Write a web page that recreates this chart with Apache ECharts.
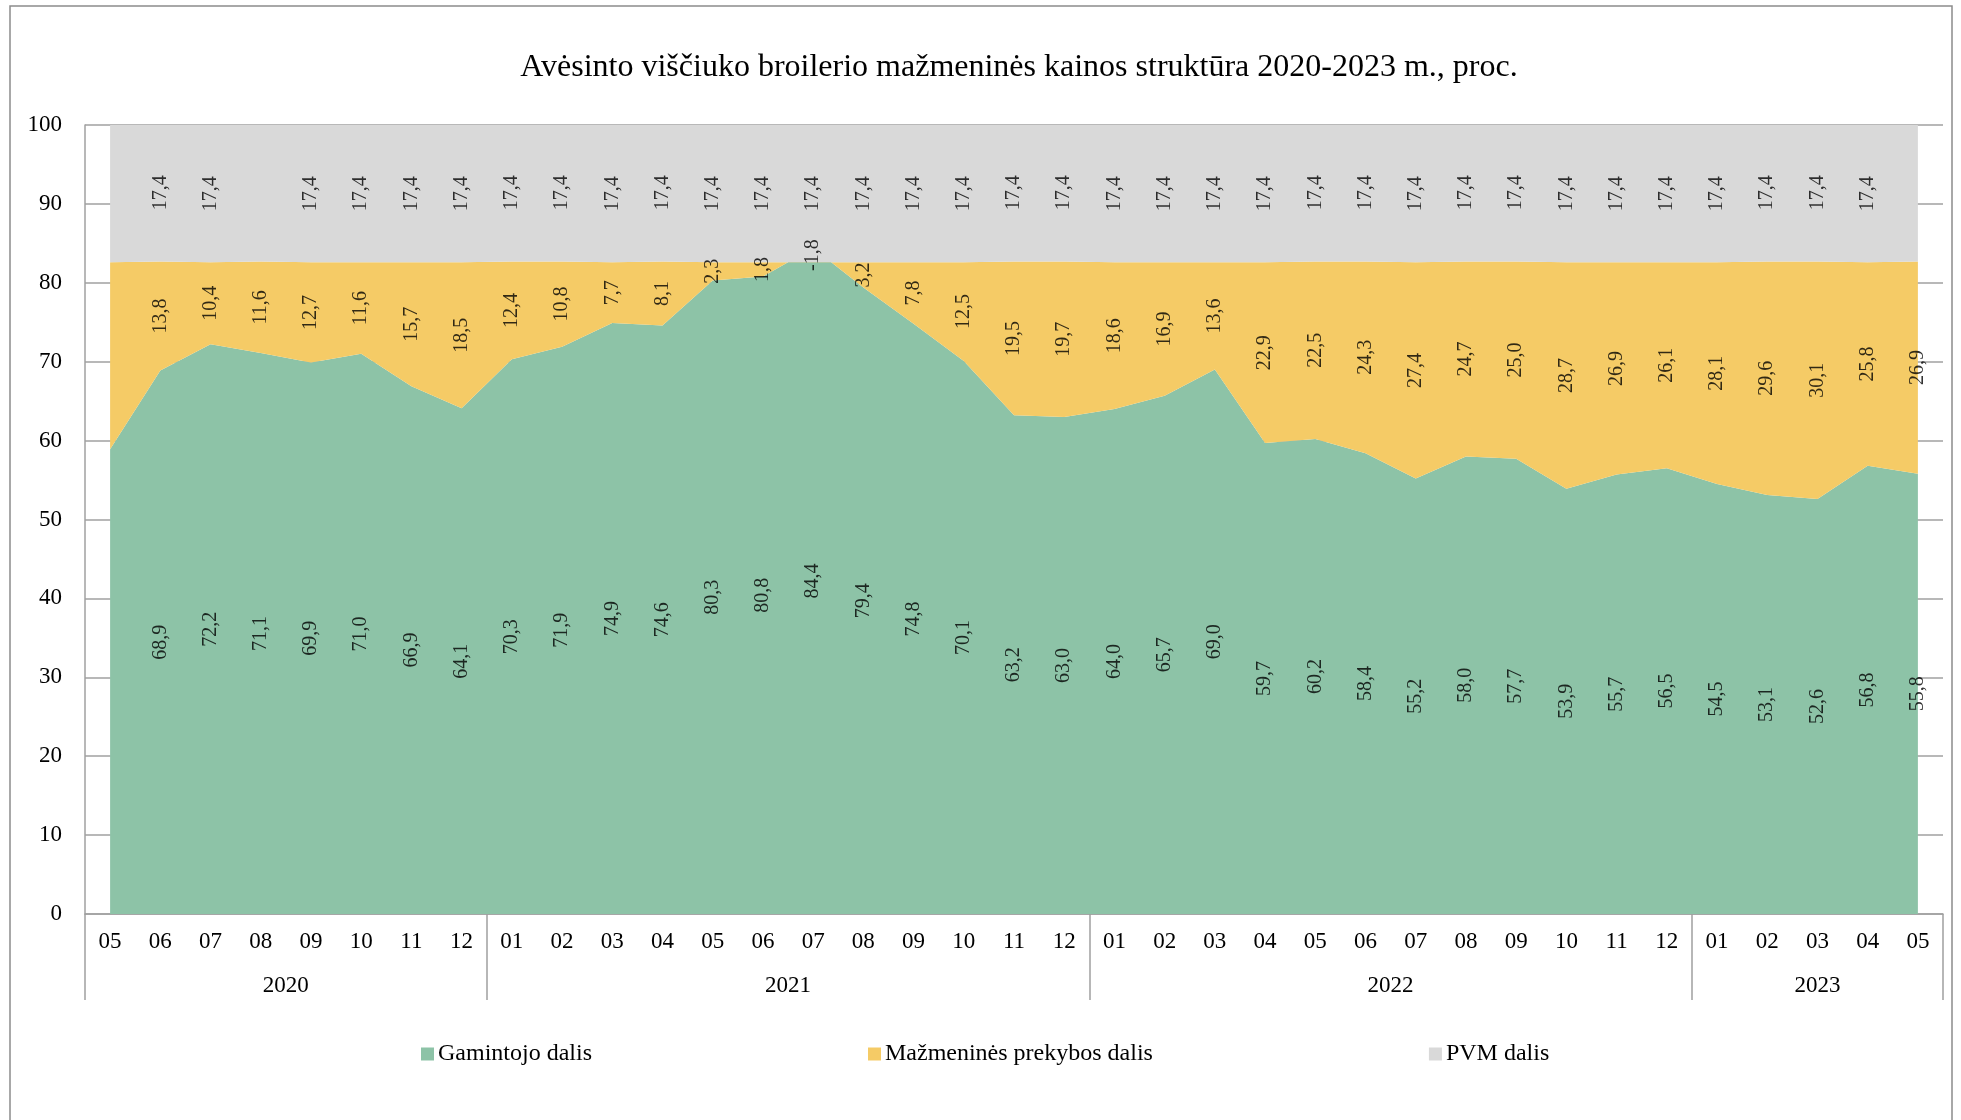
<!DOCTYPE html>
<html>
<head>
<meta charset="utf-8">
<script src="https://cdn.jsdelivr.net/npm/echarts@6/dist/echarts.min.js"></script>
<style>
  html, body { margin: 0; padding: 0; background: #fff; }
  #chart { width: 1961px; height: 1120px; }
</style>
</head>
<body>
<div id="chart"></div>
<script>
// months 2020-05 .. 2023-05
var months = ['05','06','07','08','09','10','11','12',
  '01','02','03','04','05','06','07','08','09','10','11','12',
  '01','02','03','04','05','06','07','08','09','10','11','12',
  '01','02','03','04','05'];
var years = ['2020', '2021', '2022', '2023'];
var yearMonths = [8, 12, 12, 5];

var gamintojo = [58.9, 68.9, 72.2, 71.1, 69.9, 71.0, 66.9, 64.1,
  70.3, 71.9, 74.9, 74.6, 80.3, 80.8, 84.4, 79.4, 74.8, 70.1, 63.2, 63.0,
  64.0, 65.7, 69.0, 59.7, 60.2, 58.4, 55.2, 58.0, 57.7, 53.9, 55.7, 56.5,
  54.5, 53.1, 52.6, 56.8, 55.8];
var prekybos = [23.7, 13.8, 10.4, 11.6, 12.7, 11.6, 15.7, 18.5,
  12.4, 10.8, 7.7, 8.1, 2.3, 1.8, -1.8, 3.2, 7.8, 12.5, 19.5, 19.7,
  18.6, 16.9, 13.6, 22.9, 22.5, 24.3, 27.4, 24.7, 25.0, 28.7, 26.9, 26.1,
  28.1, 29.6, 30.1, 25.8, 26.9];
var pvm = [17.4, 17.4, 17.4, 17.4, 17.4, 17.4, 17.4, 17.4,
  17.4, 17.4, 17.4, 17.4, 17.4, 17.4, 17.4, 17.4, 17.4, 17.4, 17.4, 17.4,
  17.4, 17.4, 17.4, 17.4, 17.4, 17.4, 17.4, 17.4, 17.4, 17.4, 17.4, 17.4,
  17.4, 17.4, 17.4, 17.4, 17.4];

var yTicks = [0, 10, 20, 30, 40, 50, 60, 70, 80, 90, 100];

// labels the original chart does not show
var hideGam = [0];
var hidePrek = [0];
var hidePvm = [0, 3, 36];

var serif = 'Liberation Serif';
var colGam = '#8DC3A7', colPrek = '#F5CB66', colPvm = '#D9D9D9';
var grayLine = '#A0A0A0';

// second axis for years: half-month steps, year name at the centre of its months
var halfSteps = [];
var yearBounds = [];
var start = 0;
for (var k = 0; k <= months.length * 2; k++) halfSteps.push('');
yearMonths.forEach(function (n, i) {
  yearBounds.push(start * 2);
  halfSteps[start * 2 + n] = years[i];
  start += n;
});
yearBounds.push(start * 2);

function mids(base, vals, hide) {
  return vals.map(function (v, i) {
    if (hide.indexOf(i) >= 0) return '-';
    return base[i] + v / 2;
  });
}
var zeros = gamintojo.map(function () { return 0; });
var gp = gamintojo.map(function (g, i) { return g + prekybos[i]; });

function labelSeries(data, vals) {
  return {
    type: 'scatter',
    xAxisIndex: 0,
    data: data,
    symbolSize: 1,
    itemStyle: { color: 'rgba(0,0,0,0)' },
    silent: true,
    z: 5,
    label: {
      show: true,
      position: 'inside',
      rotate: 90,
      fontFamily: serif,
      fontSize: 20,
      color: '#000',
      formatter: function (p) { return vals[p.dataIndex].toFixed(1).replace('.', ','); }
    }
  };
}

function areaSeries(name, data, color) {
  return {
    name: name,
    type: 'line',
    stack: 'total',
    stackStrategy: 'all',
    data: data,
    symbol: 'none',
    lineStyle: { width: 0 },
    areaStyle: { color: color, opacity: 1 },
    itemStyle: { color: color },
    silent: true
  };
}

var chart = echarts.init(document.getElementById('chart'));
var option = {
  backgroundColor: '#fff',
  animation: false,
  textStyle: { fontFamily: serif },
  graphic: [
    {
      type: 'rect',
      shape: { x: 10, y: 6, width: 1942, height: 1130 },
      style: { fill: 'none', stroke: '#8C8C8C', lineWidth: 1.5 },
      silent: true
    },
    {
      type: 'text',
      x: 1019,
      y: 68,
      style: {
        text: 'Avėsinto viščiuko broilerio mažmeninės kainos struktūra 2020-2023 m., proc.',
        fontFamily: serif,
        fontSize: 32,
        fill: '#000',
        align: 'center',
        verticalAlign: 'middle'
      }
    }
  ],
  legend: {
    data: ['Gamintojo dalis', 'Mažmeninės prekybos dalis', 'PVM dalis'],
    left: 416,
    top: 1037,
    icon: 'rect',
    itemWidth: 13,
    itemHeight: 13,
    itemGap: 276,
    textStyle: { fontFamily: serif, fontSize: 24, color: '#000', padding: [0, 0, 0, -1] }
  },
  grid: { left: 85, right: 18, top: 125, bottom: 206 },
  xAxis: [
    {
      type: 'category',
      position: 'bottom',
      data: months,
      boundaryGap: true,
      axisLine: { show: true, lineStyle: { color: grayLine, width: 1.5 } },
      axisTick: { show: false },
      axisLabel: { interval: 0, fontFamily: serif, fontSize: 23, color: '#000', margin: 16 }
    },
    {
      type: 'category',
      position: 'bottom',
      data: halfSteps,
      boundaryGap: false,
      axisLine: { show: false },
      axisTick: {
        show: true,
        length: 86,
        interval: function (i) { return yearBounds.indexOf(i) >= 0; },
        lineStyle: { color: grayLine, width: 1.5 }
      },
      axisLabel: { interval: 0, fontFamily: serif, fontSize: 23, color: '#000', margin: 60 },
      splitLine: { show: false }
    }
  ],
  yAxis: {
    type: 'value',
    min: yTicks[0],
    max: yTicks[yTicks.length - 1],
    interval: yTicks[1] - yTicks[0],
    axisLine: { show: true, lineStyle: { color: grayLine, width: 1.5 } },
    axisTick: { show: false },
    splitLine: { show: true, lineStyle: { color: grayLine, width: 1.5 } },
    axisLabel: { fontFamily: serif, fontSize: 23, color: '#000', margin: 23 }
  },
  series: [
    areaSeries('Gamintojo dalis', gamintojo, colGam),
    areaSeries('Mažmeninės prekybos dalis', prekybos, colPrek),
    areaSeries('PVM dalis', pvm, colPvm),
    labelSeries(mids(zeros, gamintojo, hideGam), gamintojo),
    labelSeries(mids(gamintojo, prekybos, hidePrek), prekybos),
    labelSeries(mids(gp, pvm, hidePvm), pvm)
  ]
};
chart.setOption(option);
window.onresize = function () { chart.resize(); };
</script>
</body>
</html>
